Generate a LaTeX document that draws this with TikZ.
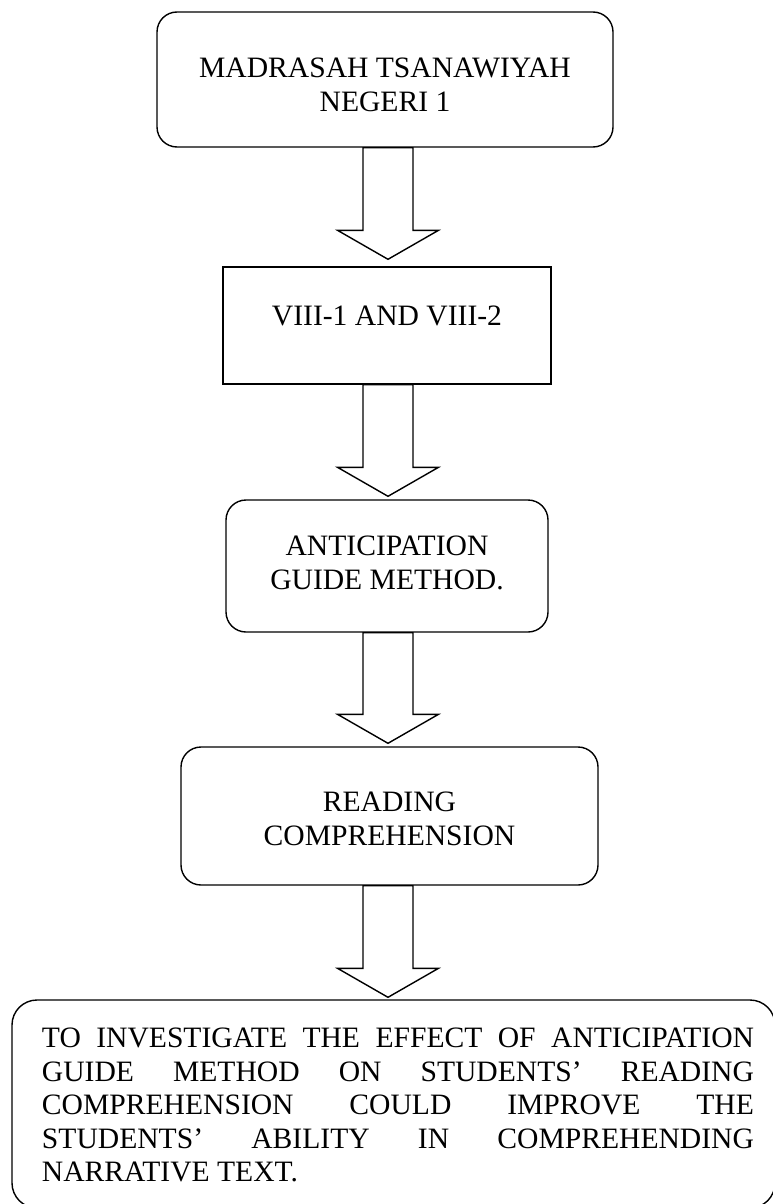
\documentclass[tikz,border=0pt]{standalone}
\usepackage{fontspec}
\setmainfont{Liberation Serif}
\usetikzlibrary{calc}
% one justified line of the conclusion box, shifted slightly right
\newcommand{\jline}[1]{\hbox to 721pt{\kern9pt #1}}
\begin{document}
\begin{tikzpicture}[x=1pt,y=-1pt,
  flowbox/.style={draw, line width=1.4pt, inner sep=0pt, align=center,
    font=\fontsize{29.6}{34}\selectfont},
  roundbox/.style={flowbox, rounded corners=20pt},
  squarebox/.style={flowbox},
  blockarrow/.style={draw, line width=1.4pt, fill=white}]
\useasboundingbox (0,0) rectangle (773,1204);

\node[roundbox, minimum width=456pt, minimum height=135pt] (b1) at (385,79.5)
  {\rule{0pt}{31pt}MADRASAH TSANAWIYAH\\NEGERI 1};
\node[squarebox, minimum width=328pt, minimum height=117pt] (b2) at (387,325.5)
  {VIII-1 AND VIII-2\rule[-20.6pt]{0pt}{20.6pt}};
\node[roundbox, minimum width=322pt, minimum height=132pt] (b3) at (387,566)
  {ANTICIPATION\\GUIDE METHOD.\rule[-7.2pt]{0pt}{7.2pt}};
\node[roundbox, minimum width=417pt, minimum height=138pt] (b4) at (389.5,816)
  {\rule{0pt}{26pt}READING\\COMPREHENSION};
\node[flowbox, rounded corners=25pt, align=left, minimum width=763pt, minimum height=208pt,
  font=\fontsize{29.6}{33.5}\selectfont] (b5) at (393.5,1104)
  {\jline{\rule{0pt}{22pt}TO\hfill INVESTIGATE\hfill THE\hfill EFFECT\hfill OF\hfill ANTICIPATION}\\
   \jline{GUIDE\hfill METHOD\hfill ON\hfill STUDENTS’\hfill READING}\\
   \jline{COMPREHENSION\hfill COULD\hfill IMPROVE\hfill THE}\\
   \jline{STUDENTS’\hfill ABILITY\hfill IN\hfill COMPREHENDING}\\
   \jline{NARRATIVE TEXT.\hfill}};

% common vertical axis of the block arrows
\coordinate (spine) at (388,0);
\foreach \a/\b/\g in {b1/b2/7pt, b2/b3/3pt, b3/b4/3pt, b4/b5/2pt}{
  \draw[blockarrow] let \p1=(\a.south), \p2=(\b.north), \p3=(spine) in
    (\x3-25pt,\y1) -- (\x3-25pt,\y2+\g+29pt) -- (\x3-50.5pt,\y2+\g+29pt)
    -- (\x3,\y2+\g) -- (\x3+50.5pt,\y2+\g+29pt) -- (\x3+25pt,\y2+\g+29pt)
    -- (\x3+25pt,\y1) -- cycle;
}
\end{tikzpicture}
\end{document}
